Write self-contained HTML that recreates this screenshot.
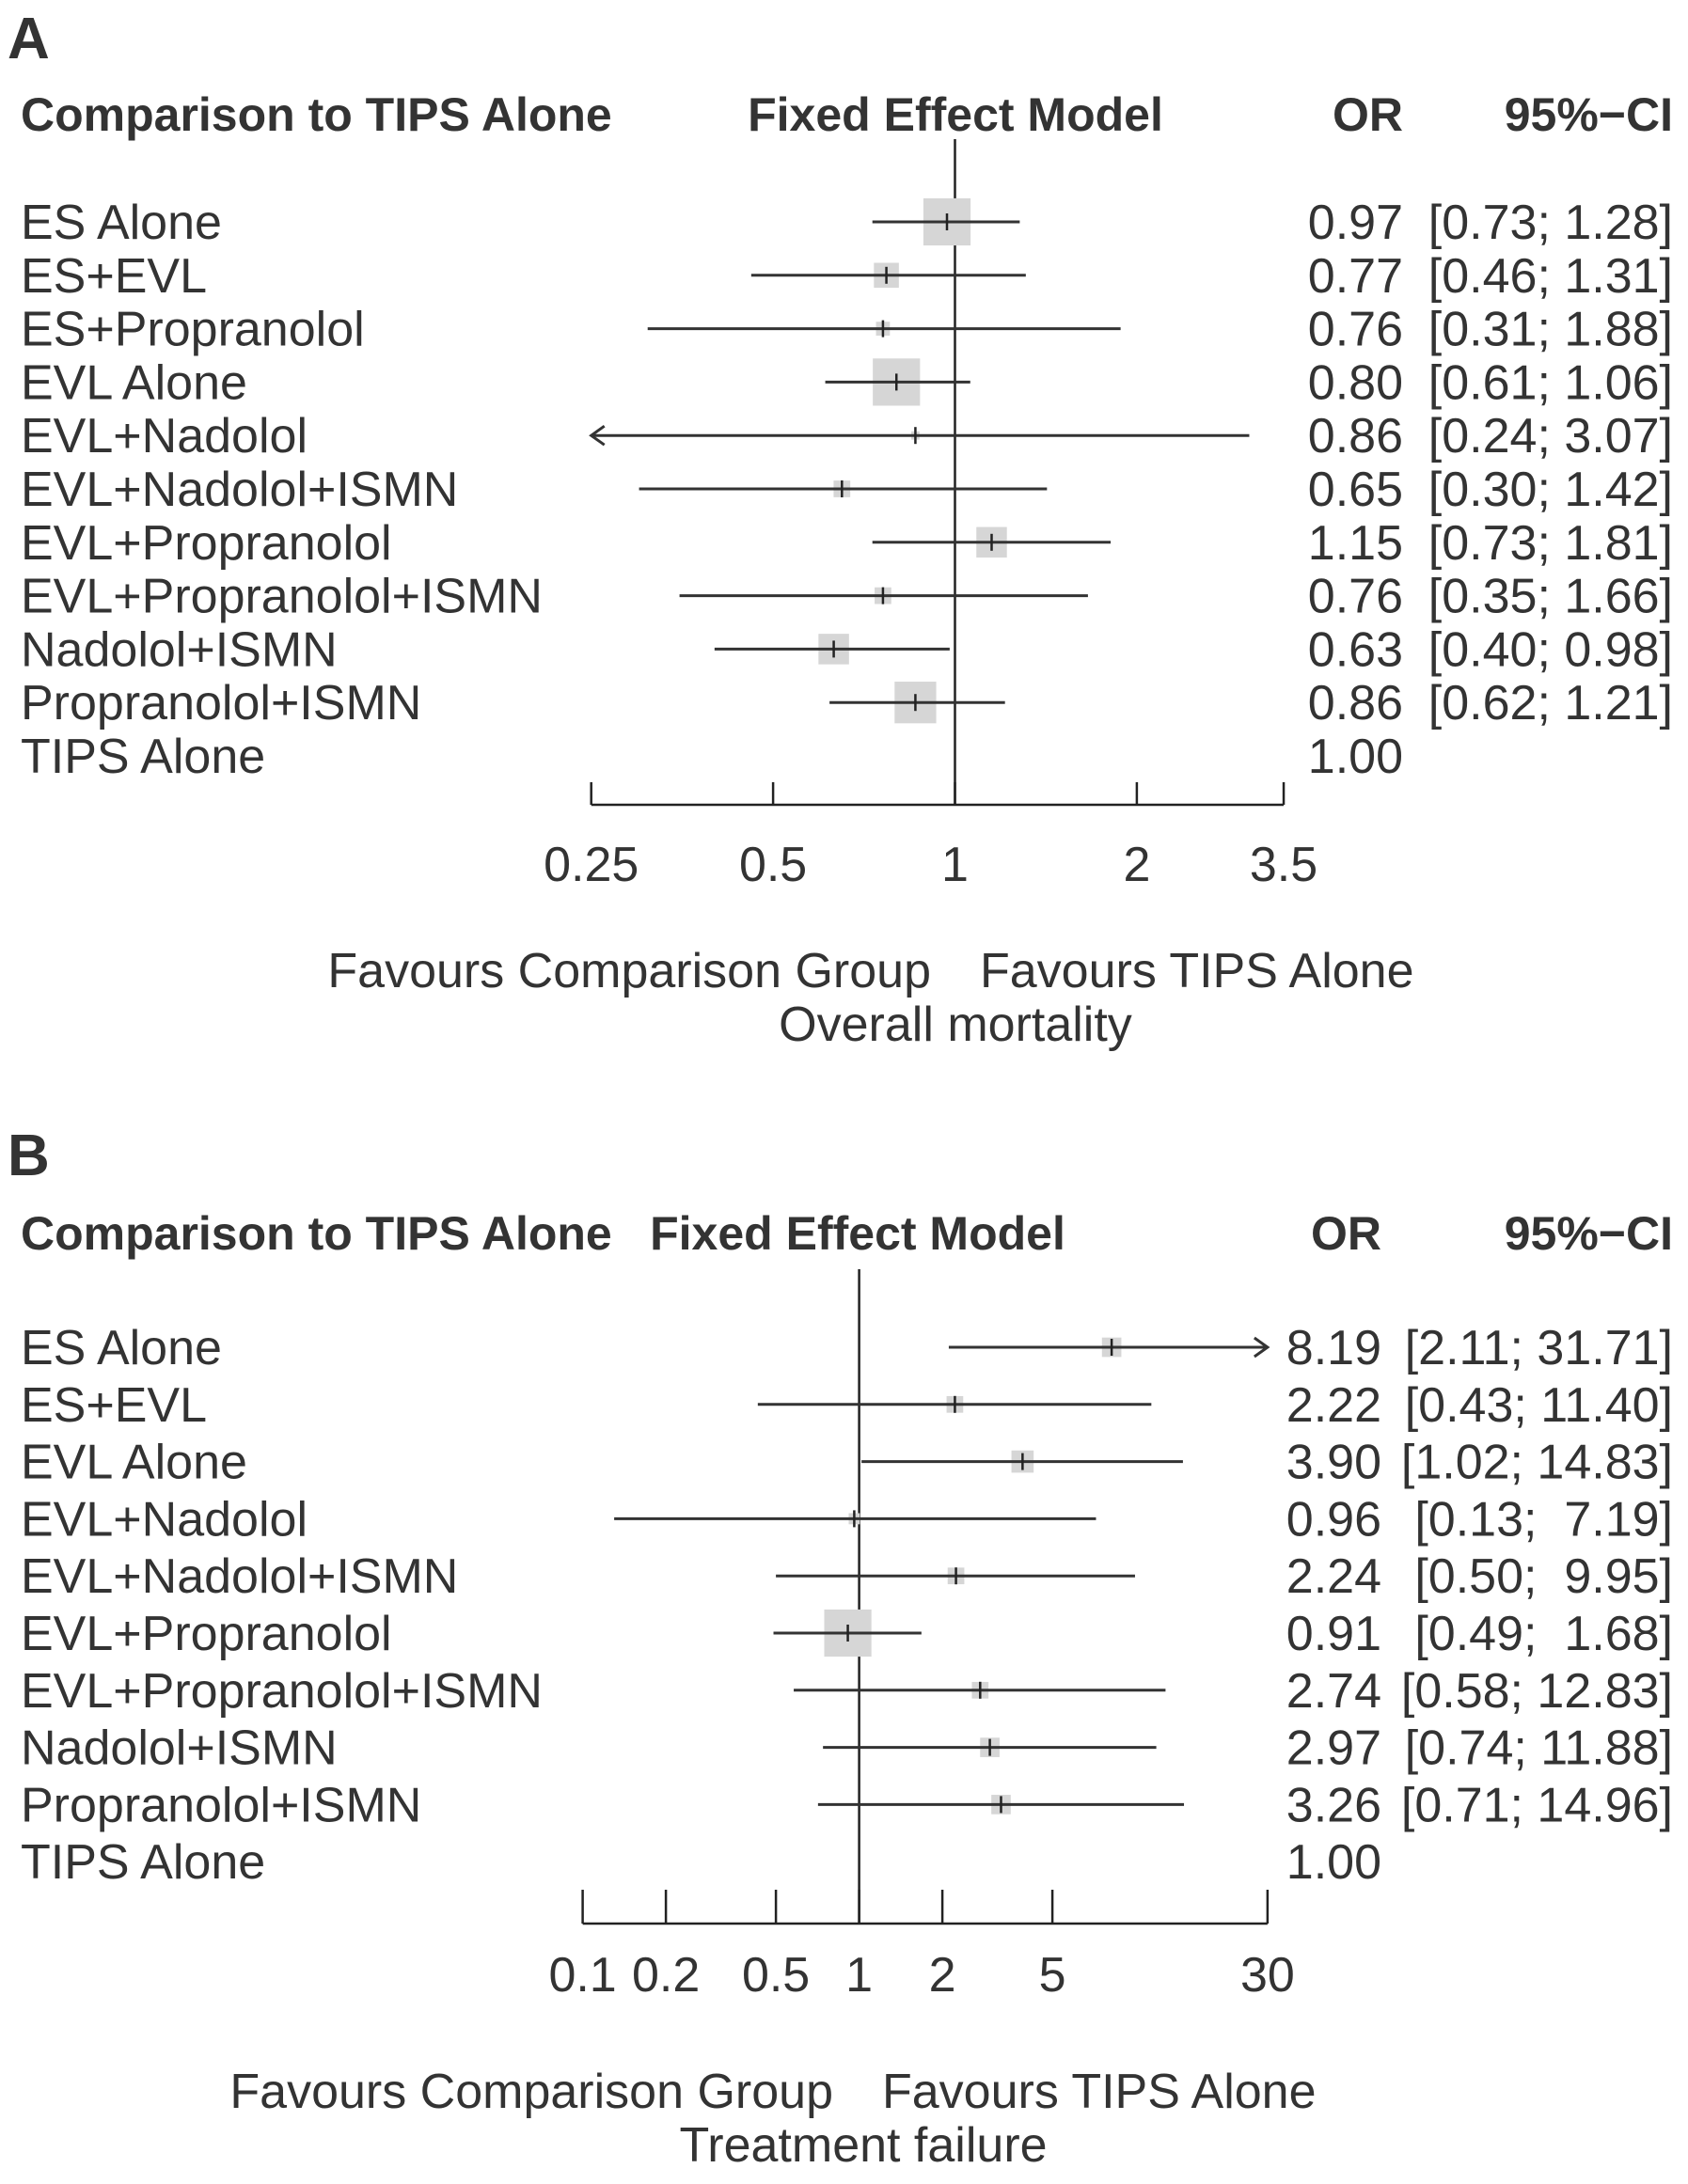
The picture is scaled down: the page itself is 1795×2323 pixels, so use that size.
<!DOCTYPE html>
<html><head><meta charset="utf-8"><style>
html,body{margin:0;padding:0;background:#fff;}
svg{display:block;}
text{font-family:"Liberation Sans",sans-serif;fill:#333;white-space:pre;}
.b{font-weight:bold;}
</style></head><body>
<svg id="chart" width="1795" height="2323" viewBox="0 0 1795 2323" xmlns="http://www.w3.org/2000/svg" xml:space="preserve"></svg>
<script>
// Panel A data
const labelsA = ["ES Alone","ES+EVL","ES+Propranolol","EVL Alone","EVL+Nadolol","EVL+Nadolol+ISMN","EVL+Propranolol","EVL+Propranolol+ISMN","Nadolol+ISMN","Propranolol+ISMN","TIPS Alone"];
const orA = [0.97,0.77,0.76,0.80,0.86,0.65,1.15,0.76,0.63,0.86,1.00];
const loA = [0.73,0.46,0.31,0.61,0.24,0.30,0.73,0.35,0.40,0.62,null];
const hiA = [1.28,1.31,1.88,1.06,3.07,1.42,1.81,1.66,0.98,1.21,null];
const weightA = [34,18,10,34,6,12,22,12,22,30,0];
const ticksA = [0.25,0.5,1,2,3.5];
const tickLabelsA = ["0.25","0.5","1","2","3.5"];
// Panel B data
const labelsB = ["ES Alone","ES+EVL","EVL Alone","EVL+Nadolol","EVL+Nadolol+ISMN","EVL+Propranolol","EVL+Propranolol+ISMN","Nadolol+ISMN","Propranolol+ISMN","TIPS Alone"];
const orB = [8.19,2.22,3.90,0.96,2.24,0.91,2.74,2.97,3.26,1.00];
const loB = [2.11,0.43,1.02,0.13,0.50,0.49,0.58,0.74,0.71,null];
const hiB = [31.71,11.40,14.83,7.19,9.95,1.68,12.83,11.88,14.96,null];
const weightB = [14,12,16,8,12,34,12,14,14,0];
const ticksB = [0.1,0.2,0.5,1,2,5,30];
const tickLabelsB = ["0.1","0.2","0.5","1","2","5","30"];

const svg=document.getElementById('chart');
const NS="http://www.w3.org/2000/svg";
function mk(tag,attrs,txt){const e=document.createElementNS(NS,tag);for(const k in attrs)e.setAttribute(k,attrs[k]);if(txt!==undefined)e.textContent=txt;svg.appendChild(e);return e;}
function fmt(v){return v.toFixed(2);}
function ci(l,h,wide){let b=fmt(h);if(wide&&h<10)b=" "+b;return "["+fmt(l)+"; "+b+"]";}

function panel(p){
  const x=v=>p.x1+Math.log(v)/Math.log(p.base)*p.unit;
  const y=i=>p.row0+i*p.rowH;
  let t=mk('text',{x:8,y:p.letterY,'font-size':62,'class':'b',fill:'#111'},p.letter);
  
  
  t=mk('text',{x:22,y:p.headY,'font-size':50,'class':'b'},"Comparison to TIPS Alone");
  
  
  t=mk('text',{x:p.fixedX,y:p.headY,'font-size':50,'class':'b','text-anchor':'middle'},"Fixed Effect Model");
  
  
  t=mk('text',{x:p.orX,y:p.headY,'font-size':50,'class':'b','text-anchor':'end'},"OR");
  
  
  t=mk('text',{x:1779,y:p.headY,'font-size':50,'class':'b','text-anchor':'end'},"95%\u2212CI");
  
  
  let l=mk('line',{x1:x(1),x2:x(1),y1:p.refTop,y2:p.axisY,stroke:'#222','stroke-width':2.5});
  
  
  const xmin=x(p.ticks[0]),xmax=x(p.ticks[p.ticks.length-1]);
  p.labels.forEach((lab,i)=>{
    const yy=y(i);
    let e=mk('text',{x:22,y:yy+18,'font-size':52},lab);
    
    
    e=mk('text',{x:p.orX,y:yy+18,'font-size':52,'text-anchor':'end'},fmt(p.or[i]));
    
    
    if(p.lo[i]===null)return;
    e=mk('text',{x:1779,y:yy+18,'font-size':52,'text-anchor':'end'},ci(p.lo[i],p.hi[i],p.wideCI));
    
    
    const w=p.w[i]*1.476;
    const cx=x(p.or[i]);
    e=mk('rect',{x:cx-w/2,y:yy-w/2,width:w,height:w,fill:'#d6d6d6'});
    
    
    const lx=Math.max(xmin,x(p.lo[i])),hx=Math.min(xmax,x(p.hi[i]));
    e=mk('line',{x1:lx,x2:hx,y1:yy,y2:yy,stroke:'#333','stroke-width':3});
    
    
    if(x(p.lo[i])<xmin){
      e=mk('polyline',{points:`${lx+14},${yy-10} ${lx},${yy} ${lx+14},${yy+10}`,fill:'none',stroke:'#333','stroke-width':3});
      
      
    }
    if(x(p.hi[i])>xmax){
      e=mk('polyline',{points:`${hx-14},${yy-10} ${hx},${yy} ${hx-14},${yy+10}`,fill:'none',stroke:'#333','stroke-width':3});
      
      
    }
    e=mk('line',{x1:cx,x2:cx,y1:yy-9,y2:yy+9,stroke:'#222','stroke-width':2.5});
    
    
  });
  l=mk('line',{x1:xmin,x2:xmax,y1:p.axisY,y2:p.axisY,stroke:'#222','stroke-width':2.5});
  
  
  p.ticks.forEach((v,i)=>{
    let e=mk('line',{x1:x(v),x2:x(v),y1:p.axisY-p.tickLen,y2:p.axisY,stroke:'#222','stroke-width':2.5});
    
    
    e=mk('text',{x:x(v),y:p.tickLabY,'font-size':52,'text-anchor':'middle'},p.tickLabels[i]);
    
    
  });
  t=mk('text',{x:p.favSplit-26,y:p.favY,'font-size':52,'text-anchor':'end'},"Favours Comparison Group");
  
  
  t=mk('text',{x:p.favSplit+26,y:p.favY,'font-size':52},"Favours TIPS Alone");
  
  
  t=mk('text',{x:p.titleX,y:p.favY+57,'font-size':52,'text-anchor':'middle'},p.title);
  
  
}

panel({letter:'A',letterY:62,headY:139,fixedX:1016,orX:1492,labels:labelsA,or:orA,lo:loA,hi:hiA,w:weightA,
  x1:1015.5,base:2,unit:193.4,row0:236,rowH:56.8,refTop:148,axisY:856,tickLen:24,tickLabY:937,
  ticks:ticksA,tickLabels:tickLabelsA,favY:1050,favSplit:1016,titleX:1016,title:"Overall mortality",wideCI:false});
panel({letter:'B',letterY:1250,headY:1329,fixedX:912,orX:1469,labels:labelsB,or:orB,lo:loB,hi:hiB,w:weightB,
  x1:913.6,base:10,unit:294,row0:1433,rowH:60.8,refTop:1350,axisY:2046,tickLen:36,tickLabY:2118,
  ticks:ticksB,tickLabels:tickLabelsB,favY:2242,favSplit:912,titleX:918,title:"Treatment failure",wideCI:true});
</script>
</body></html>
